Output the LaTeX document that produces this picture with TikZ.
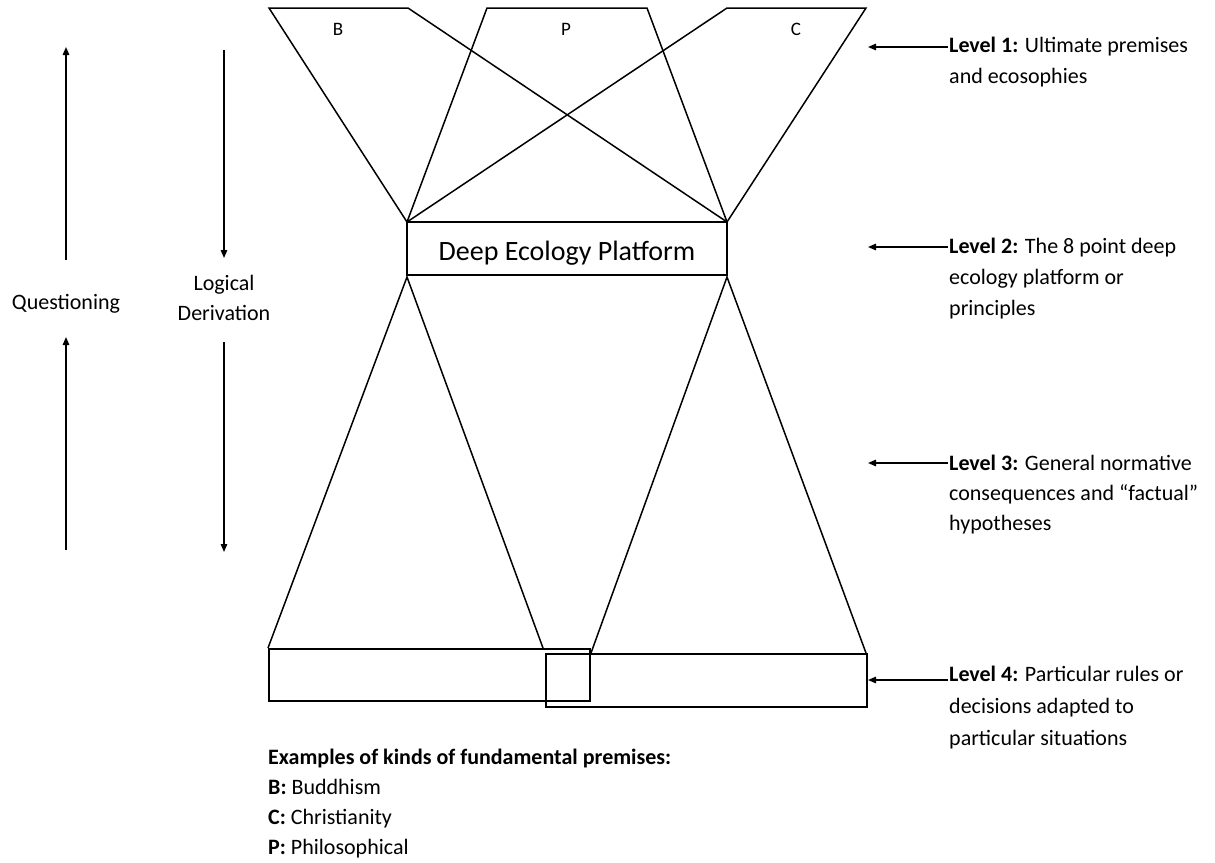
\documentclass[tikz,border=0pt]{standalone}
\usepackage{fontspec}
\setmainfont{Carlito}
\usetikzlibrary{arrows.meta}
\begin{document}
\begin{tikzpicture}[x=1pt,y=-1pt,
  ln/.style={line width=1.5pt, line join=miter},
  arr/.style={line width=1.4pt,-{Triangle[length=8pt,width=6.5pt]}},
  txt/.style={font=\fontsize{22}{31}\selectfont, inner sep=0pt, align=left},
  small/.style={font=\fontsize{19}{22}\selectfont, inner sep=0pt},
  box/.style={draw, line width=1.5pt, inner sep=0pt}]
\useasboundingbox (0,0) rectangle (1215,862);
% named corners
\coordinate (pl) at (407,222);
\coordinate (pr) at (727,222);
\coordinate (Btl) at (269,8); \coordinate (Btr) at (408,8);
\coordinate (Ptl) at (487,8); \coordinate (Ptr) at (647,8);
\coordinate (Ctl) at (727,8); \coordinate (Ctr) at (866,8);
% top trapezoids
\draw[ln] (pl) -- (Btl) -- (Btr) -- (pr);
\draw[ln] (pl) -- (Ptl) -- (Ptr) -- (pr);
\draw[ln] (pl) -- (Ctl) -- (Ctr) -- (pr);
\node[small, anchor=base] (lB) at (338,35) {B};
\node[small, anchor=base] (lP) at (566,35) {P};
\node[small, anchor=base] (lC) at (796,35) {C};
% platform
\node[box, minimum width=320pt, minimum height=53pt, text height=24pt, text depth=0pt,
      font=\fontsize{28}{34}\selectfont] (plat) at (567,248.5) {Deep Ecology Platform};
% lower triangles
\coordinate (ql) at (407,277);
\coordinate (qr) at (727,277);
\coordinate (L1) at (268,648); \coordinate (L2) at (543,648);
\coordinate (R1) at (591,653); \coordinate (R2) at (866,653);
\draw[ln] (L1) -- (ql) -- (L2);
\draw[ln] (R1) -- (qr) -- (R2);
% bottom boxes
\node[box, minimum width=321pt, minimum height=52pt, anchor=north west] (boxL) at (268,648) {};
\node[box, minimum width=321pt, minimum height=53pt, anchor=north west] (boxR) at (545,653) {};
% left arrows
\coordinate (q1a) at (66,260); \coordinate (q1b) at (66,47);
\coordinate (q2a) at (66,550); \coordinate (q2b) at (66,337);
\coordinate (d1a) at (224,50); \coordinate (d1b) at (224,258);
\coordinate (d2a) at (224,342); \coordinate (d2b) at (224,552);
\draw[arr] (q1a) -- (q1b);
\draw[arr] (q2a) -- (q2b);
\draw[arr] (d1a) -- (d1b);
\draw[arr] (d2a) -- (d2b);
\node[txt, anchor=base] (quest) at (66,309) {Questioning};
\node[txt, anchor=base, align=center, font=\fontsize{22}{30}\selectfont] (logd) at (224,320) {Logical\\Derivation};
% right level labels
\coordinate (a1) at (948,47); \coordinate (b1) at (868,47);
\coordinate (a2) at (948,247); \coordinate (b2) at (868,247);
\coordinate (a3) at (948,463); \coordinate (b3) at (868,463);
\coordinate (a4) at (948,680); \coordinate (b4) at (868,680);
\draw[arr] (a1) -- (b1);
\draw[arr] (a2) -- (b2);
\draw[arr] (a3) -- (b3);
\draw[arr] (a4) -- (b4);
\node[txt, anchor=base west] (lev1) at (949,83) {\textbf{Level 1:} Ultimate premises\\and ecosophies};
\node[txt, anchor=base west] (lev2) at (949,315) {\textbf{Level 2:} The 8 point deep\\ecology platform or\\principles};
\node[txt, anchor=base west, font=\fontsize{22}{30}\selectfont] (lev3) at (949,530) {\textbf{Level 3:} General normative\\consequences and “factual”\\hypotheses};
\node[txt, anchor=base west, font=\fontsize{22}{32}\selectfont] (lev4) at (949,745) {\textbf{Level 4:} Particular rules or\\decisions adapted to\\particular situations};
% examples
\node[txt, anchor=base west, font=\fontsize{22}{30}\selectfont] (ex) at (268,854) {\textbf{Examples of kinds of fundamental premises:}\\\textbf{B:} Buddhism\\\textbf{C:} Christianity\\\textbf{P:} Philosophical};
\end{tikzpicture}
\end{document}
